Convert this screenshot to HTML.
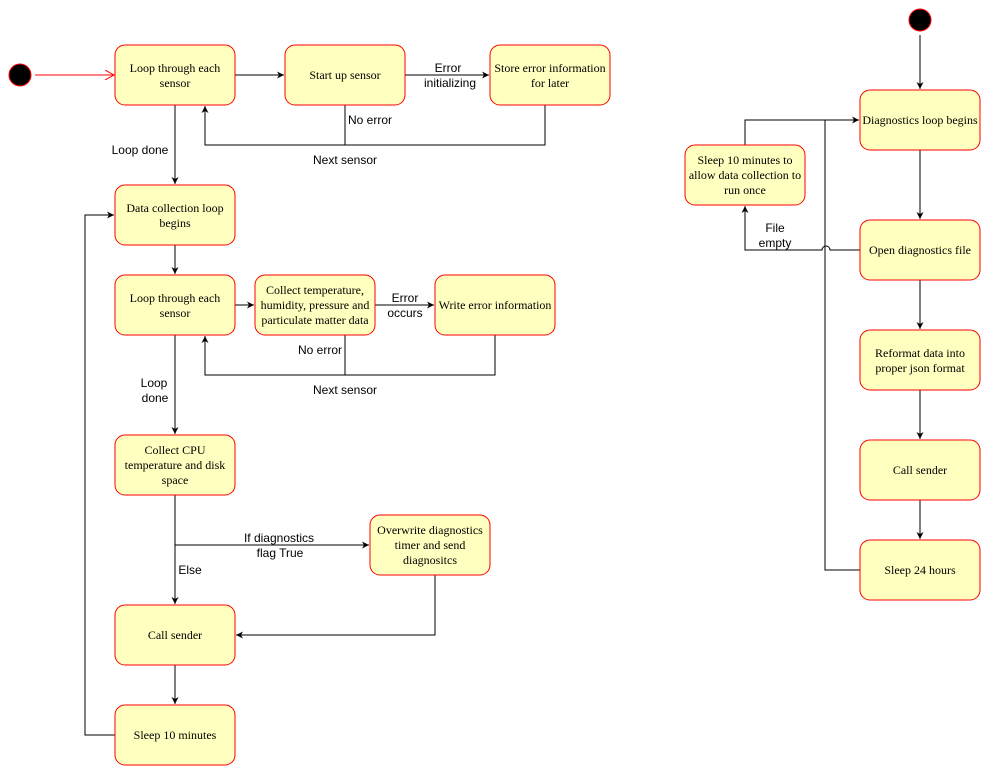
<!DOCTYPE html>
<html><head><meta charset="utf-8"><style>
body{margin:0;background:#fff}
svg{display:block}
.b{fill:#ffffc0;stroke:#ff0000;stroke-width:1}
.t{font-family:"Liberation Serif",serif;font-size:12px;fill:#000;text-anchor:middle}
.l{font-family:"Liberation Sans",sans-serif;font-size:12px;fill:#000;text-anchor:middle}
.e{fill:none;stroke:#000;stroke-width:1}
</style></head><body>
<svg width="986" height="771" viewBox="0 0 986 771" xmlns="http://www.w3.org/2000/svg">
<defs>
<marker id="a" markerWidth="8" markerHeight="8" refX="7" refY="4" orient="auto" markerUnits="userSpaceOnUse">
<path d="M0,0.5 L7,4 L0,7.5 L2,4 Z" fill="#000"/></marker>
<marker id="o" markerWidth="10" markerHeight="10" refX="9" refY="5" orient="auto" markerUnits="userSpaceOnUse">
<path d="M0,0 L9,5 L0,10" fill="none" stroke="#ff0000"/></marker>
</defs>
<!-- start nodes -->
<circle cx="20" cy="75" r="11" fill="#000" stroke="#ff0000"/>
<circle cx="920" cy="20" r="11" fill="#000" stroke="#ff0000"/>
<path d="M35,75 L114,75" stroke="#ff0000" fill="none" marker-end="url(#o)"/>

<!-- left edges -->
<path class="e" d="M235,75 L284,75" marker-end="url(#a)"/>
<path class="e" d="M405,75 L489,75" marker-end="url(#a)"/>
<path class="e" d="M345,105 L345,145 L205,145 L205,106" marker-end="url(#a)"/>
<path class="e" d="M545,105 L545,145 L345,145"/>
<path class="e" d="M175,105 L175,184" marker-end="url(#a)"/>
<path class="e" d="M175,245 L175,274" marker-end="url(#a)"/>
<path class="e" d="M235,305 L254,305" marker-end="url(#a)"/>
<path class="e" d="M375,305 L434,305" marker-end="url(#a)"/>
<path class="e" d="M345,335 L345,375 L205,375 L205,336" marker-end="url(#a)"/>
<path class="e" d="M495,335 L495,375 L345,375"/>
<path class="e" d="M175,335 L175,434" marker-end="url(#a)"/>
<path class="e" d="M175,495 L175,604" marker-end="url(#a)"/>
<path class="e" d="M175,545 L369,545" marker-end="url(#a)"/>
<path class="e" d="M435,575 L435,635 L236,635" marker-end="url(#a)"/>
<path class="e" d="M175,665 L175,704" marker-end="url(#a)"/>
<path class="e" d="M115,735 L85,735 L85,215 L114,215" marker-end="url(#a)"/>

<!-- right edges -->
<path class="e" d="M920,35 L920,89" marker-end="url(#a)"/>
<path class="e" d="M920,150 L920,219" marker-end="url(#a)"/>
<path class="e" d="M920,280 L920,329" marker-end="url(#a)"/>
<path class="e" d="M920,390 L920,439" marker-end="url(#a)"/>
<path class="e" d="M920,500 L920,539" marker-end="url(#a)"/>
<path class="e" d="M860,570 L825,570 L825,120"/>
<path class="e" d="M745,145 L745,120 L859,120" marker-end="url(#a)"/>
<path class="e" d="M860,250 L830,250 A4,4 0 0 0 822,250 L745,250 L745,206" marker-end="url(#a)"/>

<!-- edge labels -->
<text class="l" x="140" y="154">Loop done</text>
<text class="l" x="448" y="72">Error</text>
<text class="l" x="450" y="87">initializing</text>
<text class="l" x="370" y="124">No error</text>
<text class="l" x="345" y="164">Next sensor</text>
<text class="l" x="405" y="302">Error</text>
<text class="l" x="405" y="317">occurs</text>
<text class="l" x="320" y="354">No error</text>
<text class="l" x="345" y="394">Next sensor</text>
<text class="l" x="154" y="387">Loop</text>
<text class="l" x="155" y="402">done</text>
<text class="l" x="279" y="542">If diagnostics</text>
<text class="l" x="280" y="557">flag True</text>
<text class="l" x="190" y="574">Else</text>
<text class="l" x="775" y="232">File</text>
<text class="l" x="775" y="247">empty</text>

<!-- boxes -->
<rect class="b" x="115" y="45" width="120" height="60" rx="10"/>
<text class="t" x="175" y="72">Loop through each</text><text class="t" x="175" y="87">sensor</text>
<rect class="b" x="285" y="45" width="120" height="60" rx="10"/>
<text class="t" x="345" y="79">Start up sensor</text>
<rect class="b" x="490" y="45" width="120" height="60" rx="10"/>
<text class="t" x="550" y="72">Store error information</text><text class="t" x="550" y="87">for later</text>
<rect class="b" x="115" y="185" width="120" height="60" rx="10"/>
<text class="t" x="175" y="212">Data collection loop</text><text class="t" x="175" y="227">begins</text>
<rect class="b" x="115" y="275" width="120" height="60" rx="10"/>
<text class="t" x="175" y="302">Loop through each</text><text class="t" x="175" y="317">sensor</text>
<rect class="b" x="255" y="275" width="120" height="60" rx="10"/>
<text class="t" x="315" y="294">Collect temperature,</text><text class="t" x="315" y="309">humidity, pressure and</text><text class="t" x="315" y="324">particulate matter data</text>
<rect class="b" x="435" y="275" width="120" height="60" rx="10"/>
<text class="t" x="495" y="309">Write error information</text>
<rect class="b" x="115" y="435" width="120" height="60" rx="10"/>
<text class="t" x="175" y="454">Collect CPU</text><text class="t" x="175" y="469">temperature and disk</text><text class="t" x="175" y="484">space</text>
<rect class="b" x="370" y="515" width="120" height="60" rx="10"/>
<text class="t" x="430" y="534">Overwrite diagnostics</text><text class="t" x="430" y="549">timer and send</text><text class="t" x="430" y="564">diagnositcs</text>
<rect class="b" x="115" y="605" width="120" height="60" rx="10"/>
<text class="t" x="175" y="639">Call sender</text>
<rect class="b" x="115" y="705" width="120" height="60" rx="10"/>
<text class="t" x="175" y="739">Sleep 10 minutes</text>

<rect class="b" x="860" y="90" width="120" height="60" rx="10"/>
<text class="t" x="920" y="124">Diagnostics loop begins</text>
<rect class="b" x="685" y="145" width="120" height="60" rx="10"/>
<text class="t" x="745" y="164">Sleep 10 minutes to</text><text class="t" x="745" y="179">allow data collection to</text><text class="t" x="745" y="194">run once</text>
<rect class="b" x="860" y="220" width="120" height="60" rx="10"/>
<text class="t" x="920" y="254">Open diagnostics file</text>
<rect class="b" x="860" y="330" width="120" height="60" rx="10"/>
<text class="t" x="920" y="357">Reformat data into</text><text class="t" x="920" y="372">proper json format</text>
<rect class="b" x="860" y="440" width="120" height="60" rx="10"/>
<text class="t" x="920" y="474">Call sender</text>
<rect class="b" x="860" y="540" width="120" height="60" rx="10"/>
<text class="t" x="920" y="574">Sleep 24 hours</text>
</svg>
</body></html>
